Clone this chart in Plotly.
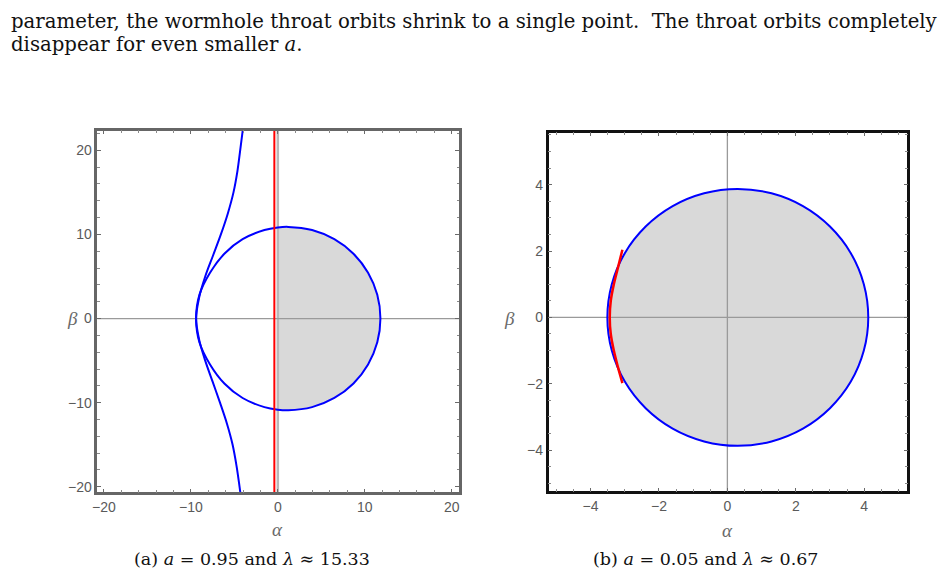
import plotly.graph_objects as go

W, H = 948, 579

# ---------------- data ----------------
# Panel (a): a = 0.95 -- shadow boundary (closed curve), alpha / beta
shadow_a_alpha = [11.8, 11.44, 10.38, 8.7, 6.5, 3.94, 1.2, 0.0, -1.54, -4.05, -6.15, -7.8, -9.02, -9.4,
                  -9.02, -7.8, -6.15, -4.05, -1.54, 0.0, 1.2, 3.94, 6.5, 8.7, 10.38, 11.44, 11.8]
shadow_a_beta = [0.0, 2.82, 5.45, 7.71, 9.44, 10.53, 10.9, 10.83, 10.53, 9.44, 7.71, 5.45, 2.82, 0.0,
                 -2.82, -5.45, -7.71, -9.44, -10.53, -10.83, -10.9, -10.53, -9.44, -7.71, -5.45, -2.82, 0.0]
# Panel (a): open branch of the blue curve (top to bottom, touching the shadow at its left edge)
branch_a_alpha = [-3.75, -4.02, -4.33, -4.65, -5.1, -5.75, -6.55, -7.45, -8.35, -9.05, -9.4,
                  -9.05, -8.35, -7.5, -6.65, -5.85, -5.2, -4.75, -4.4, -4.08, -3.8]
branch_a_beta = [25.0, 22.5, 20.0, 17.5, 15.0, 12.5, 10.0, 7.5, 5.0, 2.5, 0.0,
                 -2.5, -5.0, -7.5, -10.0, -12.5, -15.0, -17.5, -20.0, -22.5, -25.0]
# Panel (a): wormhole throat orbits (red)
throat_a_alpha = [-0.4, -0.4]
throat_a_beta = [-25.0, 25.0]

# Panel (b): a = 0.05 -- shadow boundary
shadow_b_alpha = [4.12, 3.99, 3.61, 3.0, 2.21, 1.29, 0.3, -0.68, -1.6, -2.39, -3.0, -3.38, -3.51,
                  -3.38, -3.0, -2.39, -1.6, -0.68, 0.3, 1.29, 2.21, 3.0, 3.61, 3.99, 4.12]
shadow_b_beta = [0.0, 1.0, 1.935, 2.737, 3.352, 3.738, 3.87, 3.738, 3.352, 2.737, 1.935, 1.0, 0.0,
                 -1.0, -1.935, -2.737, -3.352, -3.738, -3.87, -3.738, -3.352, -2.737, -1.935, -1.0, 0.0]
# Panel (b): throat orbits (red)
throat_b_alpha = [-3.07, -3.2, -3.32, -3.41, -3.44, -3.41, -3.32, -3.2, -3.07]
throat_b_beta = [2.04, 1.5, 1.0, 0.5, 0.0, -0.5, -1.0, -1.5, -1.98]

# axis settings
xrange_a, yrange_a = [-20.75, 20.85], [-20.65, 22.35]
xrange_b, yrange_b = [-5.23, 5.26], [-5.24, 5.57]
ticks_a = [-20, -10, 0, 10, 20]
ticks_b = [-4, -2, 0, 2, 4]

captions = ["(a) <i>a</i> = 0.95 and <i>λ</i> ≈ 15.33", "(b) <i>a</i> = 0.05 and <i>λ</i> ≈ 0.67"]
body_line1 = "parameter, the wormhole throat orbits shrink to a single point.  The throat orbits completely"
body_line2 = "disappear for even smaller <i>a</i>."

# ---------------- figure ----------------
fig = go.Figure()

BLUE = "#0000ff"
RED = "#ff0000"
FILL = "#d9d9d9"

# (a) fill: the part of the shadow with alpha >= 0 (first half of list is the upper arc)
n_half = len(shadow_a_alpha) // 2
upper = [(x, y) for x, y in zip(shadow_a_alpha[:n_half + 1], shadow_a_beta[:n_half + 1]) if x >= 0]
lower = [(x, y) for x, y in zip(shadow_a_alpha[n_half:], shadow_a_beta[n_half:]) if x >= 0]
right_part = upper[::-1] + lower[::-1]
fig.add_trace(go.Scatter(x=[p[0] for p in right_part], y=[p[1] for p in right_part], fill="toself",
                         fillcolor=FILL, mode="lines", line=dict(width=0), xaxis="x", yaxis="y",
                         hoverinfo="skip", showlegend=False))
# (b) fill: whole shadow
fig.add_trace(go.Scatter(x=shadow_b_alpha, y=shadow_b_beta, fill="toself", fillcolor=FILL, mode="lines",
                         line=dict(width=0, shape="spline"), xaxis="x2", yaxis="y2",
                         hoverinfo="skip", showlegend=False))

# zero axes (drawn above the fill)
for xa, ya, col, wd in [("x", "y", "#b8b8b8", 2.5), ("x2", "y2", "#9a9a9a", 1.3)]:
    fig.add_trace(go.Scatter(x=[0, 0], y=[-100, 100], mode="lines", line=dict(color=col, width=wd),
                             xaxis=xa, yaxis=ya, hoverinfo="skip", showlegend=False))
    fig.add_trace(go.Scatter(x=[-100, 100], y=[0, 0], mode="lines", line=dict(color="#9a9a9a", width=1.3),
                             xaxis=xa, yaxis=ya, hoverinfo="skip", showlegend=False))

# (a) curves
fig.add_trace(go.Scatter(x=shadow_a_alpha, y=shadow_a_beta, mode="lines",
                         line=dict(color=BLUE, width=2, shape="spline", smoothing=1.0),
                         xaxis="x", yaxis="y", showlegend=False))
fig.add_trace(go.Scatter(x=branch_a_alpha, y=branch_a_beta, mode="lines",
                         line=dict(color=BLUE, width=2, shape="spline", smoothing=1.0),
                         xaxis="x", yaxis="y", showlegend=False))
fig.add_trace(go.Scatter(x=throat_a_alpha, y=throat_a_beta, mode="lines",
                         line=dict(color=RED, width=2),
                         xaxis="x", yaxis="y", showlegend=False))

# (b) curves
fig.add_trace(go.Scatter(x=shadow_b_alpha, y=shadow_b_beta, mode="lines",
                         line=dict(color=BLUE, width=2, shape="spline", smoothing=1.0),
                         xaxis="x2", yaxis="y2", showlegend=False))
fig.add_trace(go.Scatter(x=throat_b_alpha, y=throat_b_beta, mode="lines",
                         line=dict(color=RED, width=2.5, shape="spline"),
                         xaxis="x2", yaxis="y2", showlegend=False))

tickfont = dict(family="Liberation Sans, Arial, sans-serif", size=14, color="#5a5a5a")


def axis(domain, rng, tickvals, minor_dtick, linecolor, anchor):
    return dict(domain=domain, range=rng, tickvals=tickvals, showgrid=False, zeroline=False,
                showline=True, linecolor=linecolor, linewidth=2.5, mirror="allticks",
                ticks="inside", ticklen=4, tickwidth=1.2, tickcolor="#6a6a6a",
                minor=dict(ticks="inside", ticklen=2.5, dtick=minor_dtick, tick0=0,
                           tickcolor="#8a8a8a", tickwidth=1),
                tickfont=tickfont, anchor=anchor, fixedrange=True)


fig.update_layout(
    width=W, height=H,
    margin=dict(l=0, r=0, t=0, b=0),
    paper_bgcolor="white", plot_bgcolor="white",
    xaxis=axis([93 / W, 457 / W], xrange_a, ticks_a, 2, "#666666", "y"),
    yaxis=axis([1 - 494 / H, 1 - 131 / H], yrange_a, ticks_a, 2, "#666666", "x"),
    xaxis2=axis([547 / W, 908 / W], xrange_b, ticks_b, 0.5, "#111111", "y2"),
    yaxis2=axis([1 - 493 / H, 1 - 133 / H], yrange_b, ticks_b, 0.5, "#111111", "x2"),
)

serif = "DejaVu Serif, serif"
ann = []
ann.append(dict(x=4 / W, y=1 - 22 / H, xref="paper", yref="paper", xanchor="left", yanchor="middle",
                text=body_line1, showarrow=False, font=dict(family=serif, size=19.7, color="#111111")))
ann.append(dict(x=4 / W, y=1 - 45 / H, xref="paper", yref="paper", xanchor="left", yanchor="middle",
                text=body_line2, showarrow=False, font=dict(family=serif, size=19.7, color="#111111")))
for cx, cap in zip([249, 705], captions):
    ann.append(dict(x=cx / W, y=1 - 561 / H, xref="paper", yref="paper", xanchor="center", yanchor="middle",
                    text=cap, showarrow=False, font=dict(family=serif, size=17.5, color="#111111")))
lab_serif = "Liberation Serif, serif"
for ax_x, ay in [(274, 531), (727, 532)]:
    ann.append(dict(x=ax_x / W, y=1 - ay / H, xref="paper", yref="paper", xanchor="center", yanchor="middle",
                    text="<i>α</i>", showarrow=False, font=dict(family=lab_serif, size=19, color="#6a6a6a")))
for bx in [68, 508]:
    ann.append(dict(x=bx / W, y=1 - 320 / H, xref="paper", yref="paper", xanchor="center", yanchor="middle",
                    text="<i>β</i>", showarrow=False, font=dict(family=lab_serif, size=19, color="#6a6a6a")))
fig.update_layout(annotations=ann)

fig.write_html("out.html")
